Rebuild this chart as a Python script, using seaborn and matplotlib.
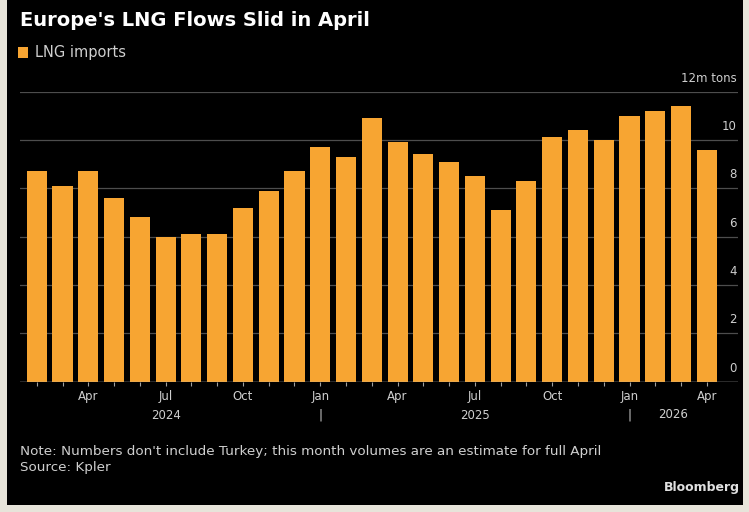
import pandas as pd
import matplotlib.pyplot as plt
import matplotlib.transforms as mtransforms
from matplotlib.patches import Rectangle
import seaborn as sns

# Datos (millones de toneladas)
months = ['Feb', 'Mar', 'Apr', 'May', 'Jun', 'Jul', 'Aug', 'Sep', 'Oct', 'Nov', 'Dec',
          'Jan', 'Feb', 'Mar', 'Apr', 'May', 'Jun', 'Jul', 'Aug', 'Sep', 'Oct', 'Nov', 'Dec',
          'Jan', 'Feb', 'Mar', 'Apr']
years = [2024] * 11 + [2025] * 12 + [2026] * 4
imports = [8.7, 8.1, 8.7, 7.6, 6.8, 6.0, 6.1, 6.1, 7.2, 7.9, 8.7,
           9.7, 9.3, 10.9, 9.9, 9.4, 9.1, 8.5, 7.1, 8.3, 10.1, 10.4, 10.0,
           11.0, 11.2, 11.4, 9.6]
y_ticks = [0, 2, 4, 6, 8, 10, 12]
y_labels = ['0', '2', '4', '6', '8', '10', '12m tons']

df = pd.DataFrame({'period': [f'{m} {y}' for m, y in zip(months, years)],
                   'imports': imports})

naranja = '#f7a532'
gris_texto = '#cfcfcf'

fig = plt.figure(figsize=(7.49, 5.12), dpi=100, facecolor='black')

# Marco beige alrededor del panel negro
for (x0, y0, w, h) in [(0, 0, 7 / 749, 1), (0, 0, 1, 7 / 512), (743 / 749, 0, 6 / 749, 1)]:
    fig.add_artist(Rectangle((x0, y0), w, h, transform=fig.transFigure,
                             facecolor='#e7e4da', edgecolor='none', zorder=10))

ax = fig.add_axes([20 / 749, (512 - 381.5) / 512, 718 / 749, 290 / 512])
ax.set_facecolor('black')

sns.barplot(data=df, x='period', y='imports', color=naranja, saturation=1,
            width=0.78, label='LNG imports', ax=ax, zorder=2)

ax.set_xlim(-0.65, 27.21)
ax.set_ylim(0, 12)
ax.set_xlabel('')
ax.set_ylabel('')

# Cuadricula horizontal y linea base
ax.set_yticks(y_ticks)
ax.grid(axis='y', color='#4d4d4d', linewidth=0.9)
ax.grid(axis='x', visible=False)
ax.set_axisbelow(True)
ax.axhline(0, color='#b5b5b5', linewidth=1, zorder=3)
for s in ax.spines.values():
    s.set_visible(False)
ax.tick_params(axis='y', length=0, labelleft=False, labelright=False)

# Etiquetas del eje y sobre las lineas, a la derecha
trans = mtransforms.blended_transform_factory(ax.transAxes, ax.transData)
trans = trans + mtransforms.ScaledTranslation(-1 / 72, 5 / 72, fig.dpi_scale_trans)
for v, lab in zip(y_ticks, y_labels):
    ax.text(1, v, lab, transform=trans, ha='right', va='bottom',
            color=gris_texto, fontsize=8.5)

# Etiquetas del eje x
xlabels = []
for m, y in zip(months, years):
    if m in ('Apr', 'Oct'):
        xlabels.append(m)
    elif m == 'Jul':
        xlabels.append(f'Jul\n{y}')
    elif m == 'Jan':
        xlabels.append('Jan\n|')
    else:
        xlabels.append('')
ax.set_xticks(range(len(months)))
ax.set_xticklabels(xlabels, color=gris_texto, fontsize=8.5, linespacing=1.6)
ax.tick_params(axis='x', length=3, width=0.8, color='#a0a0a0', pad=3)

trans_x = mtransforms.blended_transform_factory(ax.transData, ax.transAxes)
ax.text(24.7, -0.114, '2026', transform=trans_x, ha='center', va='center',
        color=gris_texto, fontsize=8.5)

# Leyenda
ax.legend(loc='center left', bbox_to_anchor=(12 / 749, 1 - 53 / 512),
          bbox_transform=fig.transFigure, frameon=False, fontsize=10.5,
          labelcolor=gris_texto, handlelength=0.7, handleheight=0.7,
          handletextpad=0.45, borderaxespad=0)

# Titulo y notas
fig.text(20 / 749, 1 - 20 / 512, "Europe's LNG Flows Slid in April", color='white',
         fontsize=14, fontweight='bold', ha='left', va='center')
fig.text(20 / 749, 1 - 451 / 512,
         "Note: Numbers don't include Turkey; this month volumes are an estimate for full April",
         color=gris_texto, fontsize=9.7, ha='left', va='center')
fig.text(20 / 749, 1 - 468 / 512, 'Source: Kpler', color=gris_texto, fontsize=9.7,
         ha='left', va='center')
fig.text(740 / 749, 1 - 488 / 512, 'Bloomberg', color='#e0e0e0', fontsize=9,
         fontweight='bold', ha='right', va='center')

fig.savefig('out.png', dpi=100, facecolor='black')
